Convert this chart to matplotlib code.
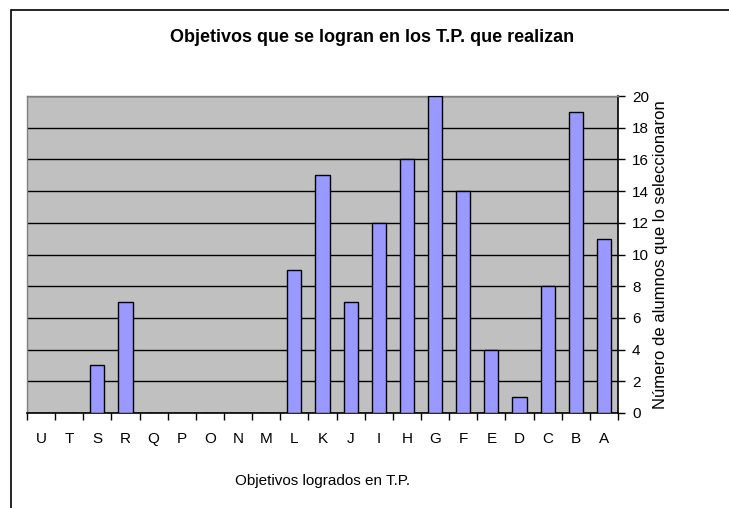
import matplotlib

matplotlib.use("Agg")
import matplotlib.pyplot as plt
from matplotlib.patches import Rectangle

plt.rcParams["font.family"] = ["Liberation Sans", "DejaVu Sans"]

# categories (A .. U) and number of students per objective
categories = list("ABCDEFGHIJKLMNOPQRSTU")
counts = [11, 19, 8, 1, 4, 14, 20, 16, 12, 7, 15, 9,
          0, 0, 0, 0, 0, 7, 3, 0, 0]
y_ticks = list(range(0, 21, 2))

fig = plt.figure(figsize=(7.29, 5.08), dpi=100)

# outer chart border (extends past the right / bottom edge)
fig.patches.append(Rectangle((11 / 729, -0.05), 1.0, 1 - 10 / 508 + 0.05,
                             transform=fig.transFigure, fill=False,
                             edgecolor="black", lw=1.2, zorder=0))

ax = fig.add_axes([27 / 729, 1 - 413 / 508, 591 / 729, 317 / 508])
ax.set_facecolor("#c0c0c0")

x = list(range(len(categories)))
ax.bar(x, counts, width=0.5, color="#9999ff", edgecolor="black",
       lw=1.0, zorder=3)

ax.set_xlim(len(categories) - 0.5, -0.5)   # A on the right
ax.set_ylim(0, 20)

# value axis on the right
ax.yaxis.tick_right()
ax.yaxis.set_label_position("right")
ax.set_yticks(y_ticks)
ax.tick_params(axis="y", direction="out", length=5, width=1,
               labelsize=11, pad=5)
ax.grid(axis="y", color="black", lw=1.0, zorder=1)
ax.set_axisbelow(True)

# category ticks at boundaries, labels in the middle
ax.set_xticks([i - 0.5 for i in range(len(categories) + 1)])
ax.set_xticklabels([])
ax.set_xticks(x, minor=True)
ax.set_xticklabels(categories, minor=True, fontsize=11)
ax.tick_params(axis="x", which="major", direction="out", length=5, width=1)
ax.tick_params(axis="x", which="minor", length=0, pad=14)

for side in ("top", "left"):
    ax.spines[side].set_color("#808080")
    ax.spines[side].set_linewidth(1.0)
ax.spines["right"].set_linewidth(1.2)
ax.spines["bottom"].set_linewidth(1.2)

ax.set_ylabel("Número de alumnos que lo seleccionaron", rotation=90,
              fontsize=12, labelpad=3)
ax.set_xlabel("Objetivos logrados en T.P.", fontsize=11, labelpad=20)

fig.text(372 / 729, 1 - 37 / 508,
         "Objetivos que se logran en los T.P. que realizan",
         ha="center", va="center", fontsize=13, fontweight="bold")

fig.savefig("out.png", dpi=100)
